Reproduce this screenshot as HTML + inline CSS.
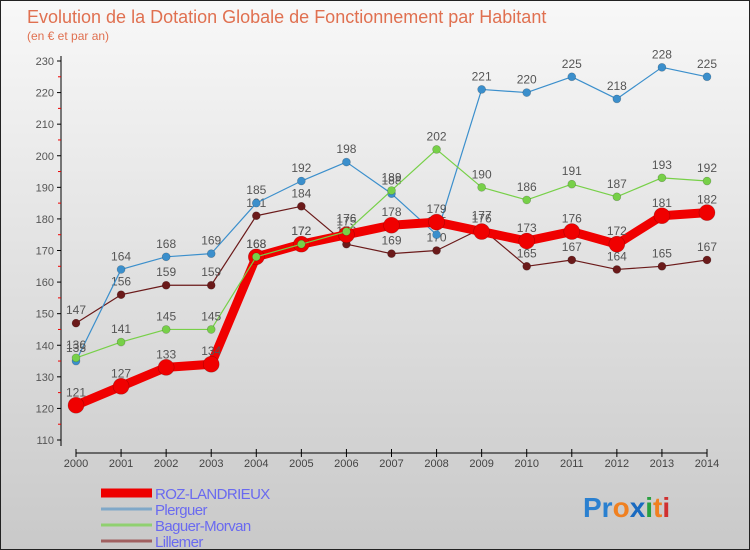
<!DOCTYPE html>
<html><head><meta charset="utf-8"><style>
body{margin:0;width:750px;height:550px;overflow:hidden;font-family:"Liberation Sans",sans-serif}
#wrap{position:relative;width:748px;height:548px;border:1px solid #222;background:linear-gradient(#f8f8f8,#c9c9c9)}
</style></head><body>
<div id="wrap">
<svg id="c" width="748" height="548" style="position:absolute;left:0;top:0"></svg>
</div>
<script>
const years=[2000,2001,2002,2003,2004,2005,2006,2007,2008,2009,2010,2011,2012,2013,2014];
const yTicks=[110,120,130,140,150,160,170,180,190,200,210,220,230];
const roz=[121,127,133,134,168,172,175,178,179,176,173,176,172,181,182];
const plerguer=[135,164,168,169,185,192,198,188,175,221,220,225,218,228,225];
const baguer=[136,141,145,145,168,172,176,189,202,190,186,191,187,193,192];
const lillemer=[147,156,159,159,181,184,172,169,170,177,165,167,164,165,167];
const NS='http://www.w3.org/2000/svg';
const svg=document.getElementById('c');
const X=i=>75+i*(706-75)/14;
const Y=v=>439-(v-110)*(439-60)/120;
function el(t,a,p){const e=document.createElementNS(NS,t);for(const k in a)e.setAttribute(k,a[k]);(p||svg).appendChild(e);return e;}
function tx(x,y,s,a){const e=el('text',Object.assign({x:x,y:y},a));e.textContent=s;return e;}
let t=tx(26,22,'Evolution de la Dotation Globale de Fonctionnement par Habitant',{'font-size':18,fill:'#e07050'});

t=tx(26,39,'(en € et par an)',{'font-size':12,fill:'#e07050'});

let a=el('line',{x1:60,y1:55,x2:60,y2:445,stroke:'#000'});
a=el('line',{x1:75,y1:452,x2:706,y2:452,stroke:'#000'});
yTicks.forEach(v=>{el('line',{x1:56,y1:Y(v),x2:60,y2:Y(v),stroke:'#000'});
 if(v<230)el('line',{x1:57,y1:Y(v+5),x2:60,y2:Y(v+5),stroke:'#e00'});
 const l=tx(53,Y(v)+4,v,{'font-size':11,fill:'#555','text-anchor':'end'});
 });
years.forEach((yr,i)=>{el('line',{x1:X(i),y1:448,x2:X(i),y2:456,stroke:'#000'});
 const l=tx(X(i),466,yr,{'font-size':11,fill:'#444','text-anchor':'middle'});
 });
function series(d,col,w,r,name){
 const g=el('g',{});
 el('polyline',{points:d.map((v,i)=>X(i)+','+Y(v)).join(' '),fill:'none',stroke:col,'stroke-width':w,'stroke-linejoin':'round'},g);
 d.forEach((v,i)=>{const c=el('circle',{cx:X(i),cy:Y(v),r:r,fill:col,stroke:'rgba(0,0,0,0.25)','stroke-width':0.6},g);
  
  tx(X(i),Y(v)-9,v,{'font-size':12,fill:'#555','text-anchor':'middle'},g);});
}
series(lillemer,'#6b1a1a',1.2,4,'lillemer-series');
series(plerguer,'#3b8fcc',1.2,4,'plerguer-series');
series(roz,'#f00000',9,8,'roz-landrieux-series');
series(baguer,'#77d048',1.2,4,'baguer-morvan-series');
const leg=[['ROZ-LANDRIEUX','#e00',9],['Plerguer','#80a8c8',3],['Baguer-Morvan','#90d070',3],['Lillemer','#a06060',3]];
leg.forEach((l,i)=>{const y=492+i*16;const g=el('g',{});
 
 el('line',{x1:100,y1:y,x2:151,y2:y,stroke:l[1],'stroke-width':l[2]},g);
 tx(154,y+6,l[0],{'font-size':15,fill:'#6a6af0','letter-spacing':'-0.6'},g);});
const p=el('text',{x:582,y:516,'font-size':28,'font-weight':'bold'});

[['Pr','#2a80d0'],['o','#f08020'],['x','#1a6ac0'],['i','#28a040'],['t','#f08020'],['i','#d03030']].forEach(s=>{const ts=el('tspan',{fill:s[1]},p);ts.textContent=s[0];});
</script>
</body></html>
